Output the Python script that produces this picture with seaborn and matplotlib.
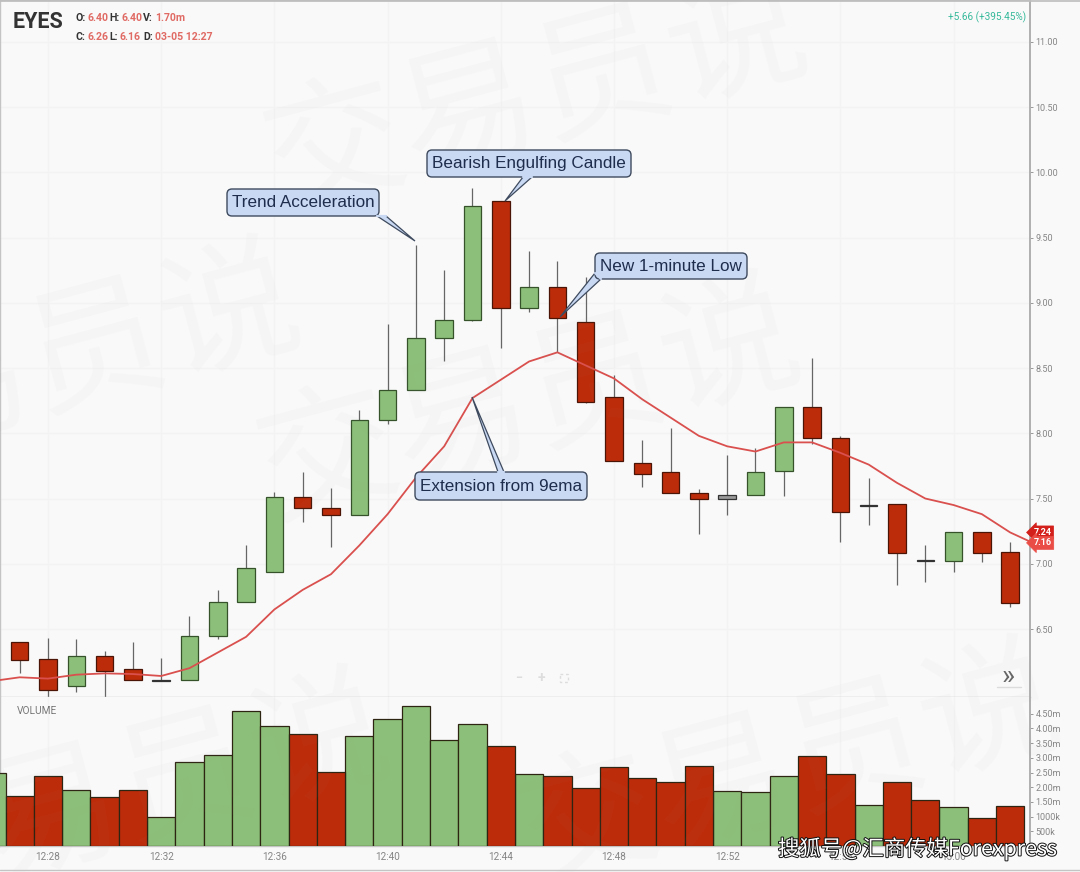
"""Intraday 1-minute candlestick chart for EYES with volume pane and callouts."""

import matplotlib
matplotlib.use("Agg")
import matplotlib.patheffects as pe
import matplotlib.pyplot as plt
import pandas as pd
import seaborn as sns
from matplotlib.lines import Line2D
from matplotlib.patches import FancyBboxPatch, Polygon, Rectangle
from matplotlib.transforms import Affine2D

# minutes after 12:00
minutes = list(range(27, 63))
opens = [6.40, 6.27, 6.06, 6.29, 6.19, 6.11, 6.11, 6.45, 6.71, 6.94, 7.51, 7.43,
         7.37, 8.10, 8.33, 8.73, 8.87, 9.78, 8.96, 9.12, 8.85, 8.28, 7.77, 7.70,
         7.54, 7.50, 7.53, 7.71, 8.20, 7.96, 7.45, 7.46, 7.03, 7.02, 7.24, 7.09]
closes = [6.26, 6.03, 6.29, 6.18, 6.11, 6.10, 6.45, 6.71, 6.97, 7.51, 7.43, 7.37,
          8.10, 8.33, 8.73, 8.87, 9.74, 8.96, 9.12, 8.88, 8.24, 7.79, 7.69, 7.54,
          7.50, 7.53, 7.70, 8.20, 7.96, 7.40, 7.44, 7.08, 7.02, 7.24, 7.08, 6.70]
highs = [6.40, 6.43, 6.42, 6.33, 6.40, 6.28, 6.60, 6.80, 7.14, 7.55, 7.70, 7.58,
         8.18, 8.84, 9.44, 9.25, 9.88, 9.78, 9.40, 9.32, 9.20, 8.45, 7.95, 8.04,
         7.57, 7.83, 7.89, 8.20, 8.58, 7.98, 7.66, 7.46, 7.14, 7.24, 7.24, 7.17]
lows = [6.16, 5.90, 6.02, 5.90, 6.11, 6.10, 6.11, 6.42, 6.71, 6.94, 7.32, 7.13,
        7.37, 8.07, 8.33, 8.55, 8.86, 8.65, 8.93, 8.62, 8.23, 7.79, 7.59, 7.54,
        7.23, 7.37, 7.53, 7.52, 7.92, 7.17, 7.30, 6.84, 6.86, 6.94, 7.01, 6.67]
doji_dark = [32, 57, 59]
doji_gray = [52]

ema_minutes = list(range(26, 64))
ema = [6.10, 6.13, 6.12, 6.15, 6.16, 6.155, 6.14, 6.20, 6.32, 6.44, 6.65, 6.80, 6.92,
       7.14, 7.38, 7.66, 7.90, 8.27, 8.41, 8.55, 8.62, 8.52, 8.42, 8.26, 8.12, 7.98,
       7.90, 7.86, 7.93, 7.93, 7.85, 7.76, 7.62, 7.50, 7.45, 7.38, 7.24, 7.14]

vol_minutes = list(range(26, 63))
volumes = [2.48, 1.70, 2.38, 1.90, 1.67, 1.90, 0.99, 2.86, 3.09, 4.59, 4.08, 3.81, 2.52,
           3.74, 4.32, 4.76, 3.61, 4.15, 3.40, 2.45, 2.38, 1.97, 2.69, 2.31, 2.18, 2.72,
           1.87, 1.85, 2.38, 3.06, 2.45, 1.39, 2.18, 1.56, 1.33, 0.95, 1.36]
vol_sides = ["up", "down", "down", "up", "down", "down", "up", "up", "up", "up", "up", "down", "down",
             "up", "up", "up", "up", "up", "down", "up", "down", "down", "down", "down", "down", "down",
             "up", "up", "up", "down", "down", "up", "down", "down", "up", "down", "down"]

price_ticks = [6.5, 7.0, 7.5, 8.0, 8.5, 9.0, 9.5, 10.0, 10.5, 11.0]
vol_ticks = [0.5, 1.0, 1.5, 2.0, 2.5, 3.0, 3.5, 4.0, 4.5]
vol_labels = ["500k", "1000k", "1.50m", "2.00m", "2.50m", "3.00m", "3.50m", "4.00m", "4.50m"]
time_ticks = [28, 32, 36, 40, 44, 48, 52, 56, 60]
time_labels = ["12:28", "12:32", "12:36", "12:40", "12:44", "12:48", "12:52", "12:56", "13:00"]

BG = "#f9f9f9"
GREEN = "#8cc07a"
RED = "#bd2c0a"
GRID = "#f3f3f3"
TICK = "#858585"
LABEL_RED = "#e06a64"

sns.set_theme(style="white")
plt.rcParams["font.family"] = ["Roboto", "Noto Sans CJK SC", "DejaVu Sans"]

fig = plt.figure(figsize=(10.8, 8.72), dpi=100, facecolor=BG)
ax = fig.add_axes([0, 175 / 872, 1030 / 1080, 697 / 872], facecolor=BG)
ax_vol = fig.add_axes([0, 26 / 872, 1030 / 1080, 149 / 872], facecolor=BG)

# screen pixels, origin top left, for things pinned to the frame
px = Affine2D().scale(1, -1).translate(0, 872)

# ─── Candles ──────────────────────────────────────────────────────────────────
ax.vlines(minutes, lows, highs, color="#666666", lw=0.9, zorder=2)
for m, o, c in zip(minutes, opens, closes):
    if m in doji_dark:
        face, edge, low, height = "#333333", "#333333", min(o, c), abs(c - o)
    elif m in doji_gray:
        face, edge, low, height = "#9a9a9a", "#333333", min(o, c), abs(c - o)
    elif c >= o:
        face, edge, low, height = GREEN, "#35522b", o, c - o
    else:
        face, edge, low, height = RED, "#4a1507", c, o - c
    ax.bar(m, height, bottom=low, width=0.62, color=face, edgecolor=edge, lw=0.9, zorder=3)

sns.lineplot(x=ema_minutes, y=ema, ax=ax, color="#d9504e", lw=1.3, zorder=4)

ax.set_xlim(26.304, 62.70)
ax.set_ylim(5.979, 11.32)
ax.set_yticks(price_ticks, [f"{t:.2f}" for t in price_ticks])
ax.set_xticks(time_ticks, [""] * len(time_ticks))
ax.yaxis.tick_right()
ax.tick_params(axis="y", length=2, width=0.7, color="#999999", labelsize=6.5, labelcolor=TICK, pad=2)
ax.tick_params(axis="x", length=0)
ax.set_xlabel("")
ax.set_ylabel("")

# ─── Volume ───────────────────────────────────────────────────────────────────
vol_df = pd.DataFrame({"minute": vol_minutes, "volume": volumes, "side": vol_sides})
sns.barplot(data=vol_df, x="minute", y="volume", hue="side", palette={"up": GREEN, "down": RED},
            native_scale=True, dodge=False, width=1.0, saturation=1, legend=False,
            edgecolor="#2e2412", linewidth=0.9, ax=ax_vol, zorder=3)
ax_vol.set_xlim(26.304, 62.70)
ax_vol.set_ylim(0, 5.07)
ax_vol.set_yticks(vol_ticks, vol_labels)
ax_vol.set_xticks(time_ticks, time_labels)
ax_vol.yaxis.tick_right()
ax_vol.tick_params(axis="y", length=2, width=0.7, color="#999999", labelsize=6.5, labelcolor=TICK, pad=2)
ax_vol.tick_params(axis="x", length=2, width=0.7, color="#999999", labelsize=7.2, labelcolor=TICK, pad=2)
ax_vol.set_xlabel("")
ax_vol.set_ylabel("")

for a in (ax, ax_vol):
    a.grid(True, color=GRID, lw=1)
    a.set_axisbelow(True)
    for side in ("left", "top", "bottom"):
        a.spines[side].set_visible(True)
        a.spines[side].set_color("#c4c4c4")
        a.spines[side].set_linewidth(1)
    a.spines["right"].set_visible(True)
    a.spines["right"].set_color("#b0b0b0")
    a.spines["right"].set_linewidth(1.4)
ax_vol.yaxis.grid(False)
ax_vol.spines["top"].set_visible(False)

# ─── Watermark ────────────────────────────────────────────────────────────────
for wx, wy in [(537, 97), (530, 405), (790, 770), (30, 370), (120, 800)]:
    fig.text(wx, wy, "交易员说", transform=px, fontsize=100, family=["Noto Sans CJK SC"],
             color="#999999", alpha=0.035, rotation=15, ha="center", va="center", zorder=1)

# ─── Header ───────────────────────────────────────────────────────────────────
fig.text(13, 22, "EYES", transform=px, fontsize=15.5, fontweight="bold", color="#333333",
         va="center", zorder=6)
header = [(76, 18, "O:", "#333333"), (88, 18, "6.40", LABEL_RED), (109, 18, "H:", "#333333"),
          (121, 18, "6.40", LABEL_RED), (143, 18, "V:", "#333333"), (155, 18, "1.70m", LABEL_RED),
          (76, 37, "C:", "#333333"), (88, 37, "6.26", LABEL_RED), (109, 37, "L:", "#333333"),
          (120, 37, "6.16", LABEL_RED), (143, 37, "D:", "#333333"), (155, 37, "03-05 12:27", LABEL_RED)]
for hx, hy, txt, col in header:
    fig.text(hx, hy, txt, transform=px, fontsize=7.6, fontweight="bold", color=col, va="center", zorder=6)
fig.text(1026, 17, "+5.66 (+395.45%)", transform=px, fontsize=7.2, color="#35b99a", ha="right",
         va="center", zorder=6)
fig.text(17, 711, "VOLUME", transform=px, fontsize=7.3, color="#777777", va="center", zorder=6)


def callout(text, box, tail):
    """Blue rounded label with a pointed tail; box is (x0, y0, x1, y1) in pixels."""
    x0, y0, x1, y1 = box
    face, edge = "#c9d8f3", "#3e4a5e"
    fig.add_artist(Polygon(tail, closed=True, transform=px, facecolor=face, edgecolor=edge,
                           lw=0.9, zorder=7))
    fig.add_artist(FancyBboxPatch((x0, y0), x1 - x0, y1 - y0, boxstyle="round,pad=0,rounding_size=5",
                                  transform=px, facecolor=face, edgecolor=edge, lw=1, zorder=8))
    # open the outline where the tail joins the box
    fig.add_artist(Line2D([tail[0][0], tail[2][0]], [tail[0][1], tail[2][1]], transform=px,
                          color=face, lw=1.6, zorder=9))
    fig.text((x0 + x1) / 2, (y0 + y1) / 2, text, transform=px, fontsize=12.3, family=["Liberation Sans"],
             color="#1f2d4d", ha="center", va="center", zorder=10)


callout("Trend Acceleration", (227, 189, 379, 216), [(377, 216), (415, 241), (386, 216)])
callout("Bearish Engulfing Candle", (427, 150, 631, 177), [(523, 177), (505, 201), (532, 177)])
callout("New 1-minute Low", (595, 253, 747, 279), [(595, 273), (560, 317), (601, 279)])
callout("Extension from 9ema", (415, 472, 587, 500), [(498, 472), (472, 397), (504, 472)])

# ─── Last price tags ──────────────────────────────────────────────────────────
tag_trans = ax.get_yaxis_transform()
ax.text(1.0035, 7.24, "7.24", transform=tag_trans, fontsize=6.5, fontweight="bold", color="white",
        va="center", clip_on=False, zorder=11,
        bbox=dict(boxstyle="larrow,pad=0.22", fc="#d3201a", ec="#d3201a", lw=0.5))
ax.text(1.0035, 7.16, "7.16", transform=tag_trans, fontsize=6.5, fontweight="bold", color="white",
        va="center", clip_on=False, zorder=12,
        bbox=dict(boxstyle="larrow,pad=0.22", fc="#ea4d45", ec="#ea4d45", lw=0.5))

# ─── Chart controls ───────────────────────────────────────────────────────────
fig.text(519, 678, "−", transform=px, fontsize=9, fontweight="bold", color="#dddddd", ha="center",
         va="center", zorder=6)
fig.text(541, 678, "+", transform=px, fontsize=10, fontweight="bold", color="#dddddd", ha="center",
         va="center", zorder=6)
fig.add_artist(Rectangle((560, 674), 8, 8, transform=px, fill=False, edgecolor="#dddddd", lw=1,
                         linestyle=(0, (2, 2)), zorder=6))
fig.text(1008, 676, "»", transform=px, fontsize=20, color="#666666", ha="center", va="center", zorder=6)
fig.add_artist(Line2D([997, 1021], [687, 687], transform=px, color="#dcdcdc", lw=1, zorder=6))

# outer frame
fig.add_artist(Line2D([0, 1080], [0.5, 0.5], transform=px, color="#bdbdbd", lw=1.2, zorder=5))
fig.add_artist(Line2D([0, 1080], [870, 870], transform=px, color="#c4c4c4", lw=1, zorder=5))

# ─── Repost credit ────────────────────────────────────────────────────────────
fig.text(1057, 849, "搜狐号@汇商传媒Forexpress", transform=px, fontsize=15.4,
         family=["Noto Sans CJK SC", "DejaVu Sans"], color="white", ha="right", va="center", zorder=13,
         path_effects=[pe.withStroke(linewidth=1.4, foreground="#111111")])

fig.savefig("out.png", dpi=100, facecolor=BG)
